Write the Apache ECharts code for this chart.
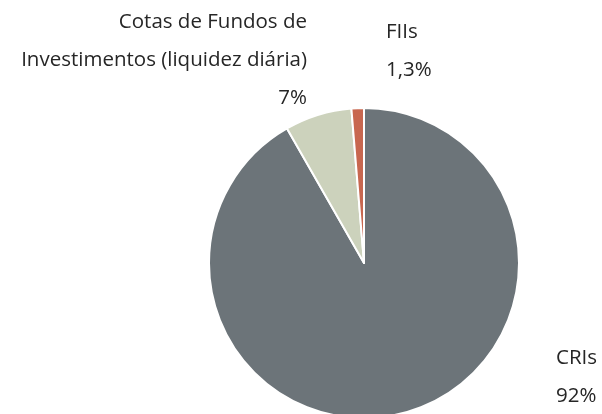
<!DOCTYPE html>
<html><head><meta charset="utf-8">
<script src="https://cdn.jsdelivr.net/npm/echarts@6/dist/echarts.min.js"></script>
<style>html,body{margin:0;padding:0;background:#fff}#c{width:602px;height:414px}</style>
</head><body><div id="c"></div>
<script>
const categories = ['CRIs', 'Cotas de Fundos de\nInvestimentos (liquidez diária)', 'FIIs'];
const values = [92, 7, 1.3];
const valueLabels = ['92%', '7%', '1,3%'];
const colors = ['#6c7479', '#ccd2bc', '#c8674f'];
const labelAnchors = [
  {x: 556, y: 339, align: 'left'},
  {x: 307, y: 3, align: 'right'},
  {x: 386, y: 13, align: 'left'}
];
const chart = echarts.init(document.getElementById('c'));
chart.setOption({
  animation: false,
  series: [{
    type: 'pie',
    center: [364, 263],
    radius: [0, 155],
    startAngle: 90,
    clockwise: true,
    itemStyle: {borderColor: '#fff', borderWidth: 2},
    label: {
      show: true,
      position: 'outside',
      overflow: 'none',
      fontFamily: '"Open Sans", "Noto Sans", sans-serif',
      fontSize: 20.5,
      lineHeight: 38,
      color: '#262626',
      formatter: p => p.name + '\n' + valueLabels[p.dataIndex]
    },
    labelLine: {show: false},
    labelLayout: p => Object.assign({verticalAlign: 'top'}, labelAnchors[p.dataIndex]),
    data: categories.map((c, i) => ({name: c, value: values[i], itemStyle: {color: colors[i]}, label: {align: labelAnchors[i].align}}))
  }]
});
</script></body></html>
